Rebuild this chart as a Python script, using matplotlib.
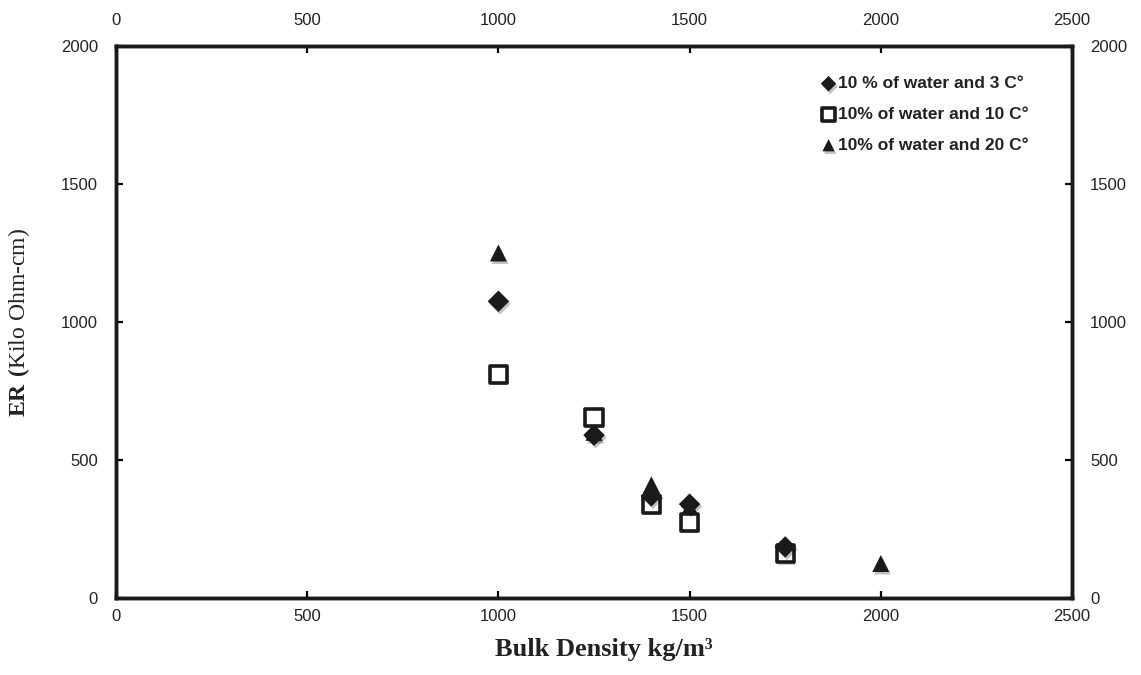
import matplotlib
matplotlib.use("Agg")
import matplotlib.pyplot as plt
import matplotlib.patheffects as pe

# bulk density (kg/m3) vs electrical resistivity (kilo ohm-cm)
dens_3c = [1000, 1250, 1400, 1500, 1750]
er_3c = [1075, 590, 370, 340, 185]

dens_10c = [1000, 1250, 1400, 1500, 1750]
er_10c = [810, 655, 340, 275, 160]

dens_20c = [1000, 1250, 1400, 1500, 1750, 2000]
er_20c = [1250, 600, 410, 330, 180, 125]

plt.rcParams["mathtext.fontset"] = "custom"
plt.rcParams["mathtext.rm"] = "Liberation Serif"
plt.rcParams["mathtext.bf"] = "Liberation Serif:bold"

tick_font = {"family": "Liberation Sans", "size": 12, "color": "#222222"}

fig = plt.figure(figsize=(11.41, 6.75), dpi=100)
ax = fig.add_axes([0.1017, 0.1141, 0.8378, 0.8178])

shadow = [pe.SimplePatchShadow(offset=(1.2, -1.8), alpha=0.25), pe.Normal()]

ax.scatter(dens_20c, er_20c, marker="^", s=150, c="#1a1a1a", lw=0,
           label="10% of water and 20 C°", path_effects=shadow, zorder=3)
ax.scatter(dens_10c, er_10c, marker="s", s=150, facecolors="white",
           edgecolors="#1a1a1a", linewidths=2.6,
           label="10% of water and 10 C°", path_effects=shadow, zorder=4)
ax.scatter(dens_3c, er_3c, marker="D", s=120, c="#1a1a1a", lw=0,
           label="10 % of water and 3 C°", path_effects=shadow, zorder=5)

ax.set_xlim(0, 2500)
ax.set_ylim(0, 2000)
ax.set_xticks(range(0, 2501, 500))
ax.set_yticks(range(0, 2001, 500))

# top and right axes repeat the same scales
top = ax.twiny()
top.set_xlim(ax.get_xlim())
top.set_xticks(range(0, 2501, 500))
right = ax.twinx()
right.set_ylim(ax.get_ylim())
right.set_yticks(range(0, 2001, 500))

for a in (ax, top, right):
    for s in a.spines.values():
        s.set_linewidth(2.4)
        s.set_color("#1a1a1a")

ax.tick_params(axis="x", direction="in", length=5, width=1.6, pad=8)
ax.tick_params(axis="y", direction="in", length=5, width=1.6, pad=13)
top.tick_params(axis="x", direction="in", length=5, width=1.6, pad=13)
right.tick_params(axis="y", direction="in", length=5, width=1.6, pad=13)
for a in (ax, top, right):
    for lab in a.get_xticklabels() + a.get_yticklabels():
        lab.set_fontfamily(tick_font["family"])
        lab.set_fontsize(tick_font["size"])
        lab.set_color(tick_font["color"])

ax.set_xlabel("Bulk Density kg/m³", fontfamily="Liberation Serif",
              fontweight="bold", fontsize=19, color="#222222")
ax.xaxis.set_label_coords(0.51, -0.072)
ax.set_ylabel(r"$\mathbf{ER\ (}$Kilo Ohm-cm)", fontfamily="Liberation Serif",
              fontsize=17, color="#222222")
ax.yaxis.set_label_coords(-0.088, 0.5)

handles, labels = ax.get_legend_handles_labels()
order = [2, 1, 0]
leg = ax.legend([handles[i] for i in order], [labels[i] for i in order],
                loc="upper right", bbox_to_anchor=(0.962, 0.958),
                borderaxespad=0, frameon=False, handletextpad=0.05,
                labelspacing=0.9, markerscale=0.72, handlelength=1.0,
                prop={"family": "Liberation Sans", "weight": "bold", "size": 12.5})
for t in leg.get_texts():
    t.set_color("#222222")

fig.savefig("out.png", dpi=100)
